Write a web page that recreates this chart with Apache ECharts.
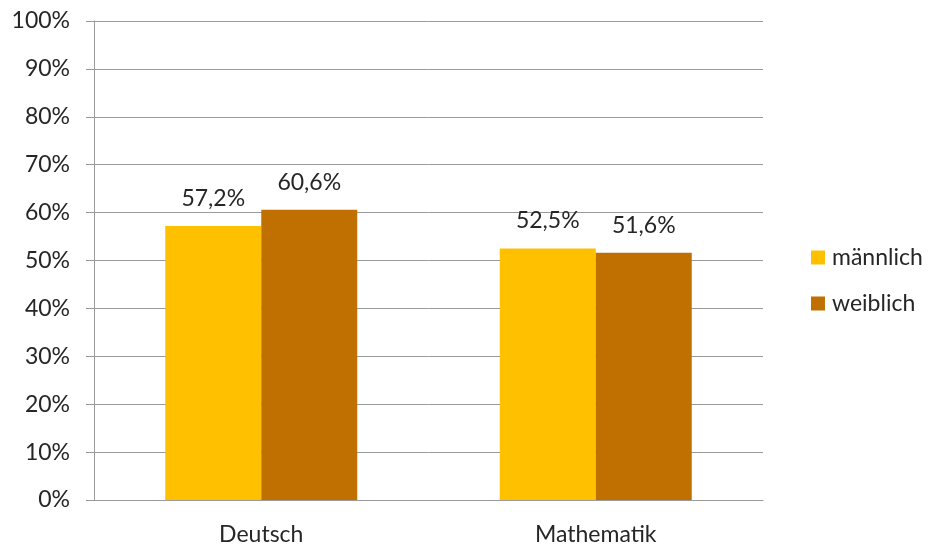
<!DOCTYPE html>
<html><head><meta charset="utf-8">
<script src="https://cdn.jsdelivr.net/npm/echarts@6/dist/echarts.min.js"></script>
<style>html,body{margin:0;padding:0;background:#fff}#c{width:928px;height:548px}</style>
</head><body><div id="c"></div>
<script>
const categories = ['Deutsch', 'Mathematik'];
const seriesNames = ['männlich', 'weiblich'];
const maennlich = [57.2, 52.5];
const weiblich = [60.6, 51.6];
const colors = ['#FFC000', '#BF7000'];
const font = 'Lato, "Open Sans", sans-serif';
const chart = echarts.init(document.getElementById('c'));
const fmt = p => String(p.value).replace('.', ',') + '%';
chart.setOption({
  animation: false,
  grid: {left: 94, right: 165, top: 21, bottom: 48},
  legend: {
    orient: 'vertical', left: 806, top: 241, itemWidth: 14, itemHeight: 14, itemGap: 23,
    icon: 'rect',
    textStyle: {fontFamily: font, fontSize: 23, color: '#262626', padding: [0, 0, 0, 2]},
    data: seriesNames
  },
  xAxis: {
    type: 'category', data: categories,
    axisLine: {lineStyle: {color: '#9a9a9a'}},
    axisTick: {length: 8, lineStyle: {color: '#9a9a9a'}},
    axisLabel: {fontFamily: font, fontSize: 23, color: '#262626', margin: 23}
  },
  yAxis: {
    type: 'value', min: 0, max: 100, interval: 10,
    axisLine: {show: true, lineStyle: {color: '#9a9a9a'}},
    axisTick: {show: true, length: 8, lineStyle: {color: '#9a9a9a'}},
    splitLine: {lineStyle: {color: '#9a9a9a'}},
    axisLabel: {fontFamily: font, fontSize: 23, color: '#262626', margin: 24, formatter: '{value}%'}
  },
  series: [
    {name: seriesNames[0], type: 'bar', data: maennlich, barWidth: '28.7%', barGap: '0%',
     itemStyle: {color: colors[0]},
     label: {show: true, position: 'top', distance: 16, fontFamily: font, fontSize: 23, color: '#262626', formatter: fmt}},
    {name: seriesNames[1], type: 'bar', data: weiblich, barWidth: '28.7%', barGap: '0%',
     itemStyle: {color: colors[1]},
     label: {show: true, position: 'top', distance: 16, fontFamily: font, fontSize: 23, color: '#262626', formatter: fmt}}
  ]
});
</script></body></html>
